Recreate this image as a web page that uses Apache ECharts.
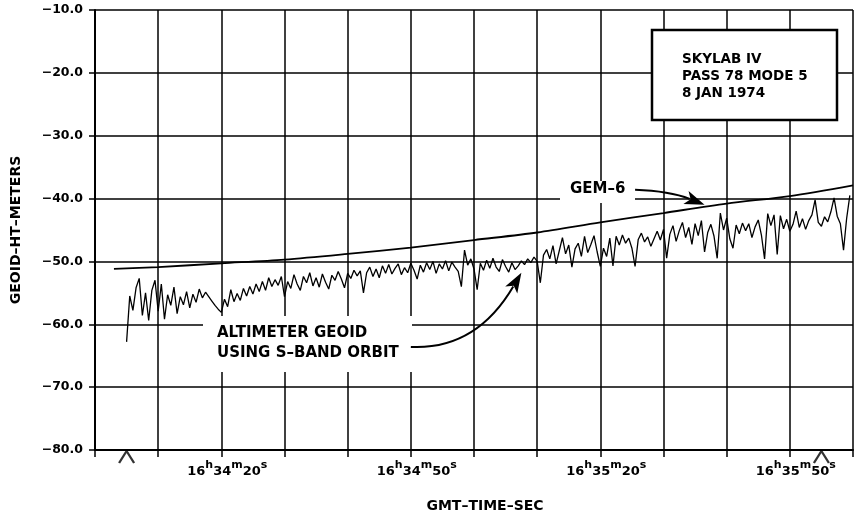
<!DOCTYPE html>
<html>
<head>
<meta charset="utf-8">
<script src="https://cdn.jsdelivr.net/npm/echarts@6/dist/echarts.min.js"></script>
<style>
  html, body { margin: 0; padding: 0; background: #fff; }
  #chart { width: 856px; height: 520px; }
</style>
</head>
<body>
<div id="chart"></div>
<script>
// seconds after 16h34m00s
var tickSecs = [20, 50, 80, 110];
var tickTimes = [['16', '34', '20'], ['16', '34', '50'], ['16', '35', '20'], ['16', '35', '50']];

// GEM-6 reference geoid
var gemTime = [3, 10, 20, 30, 40, 50, 60, 70, 80, 90, 100, 110, 120];
var gemValue = [-51.2, -50.9, -50.3, -49.7, -48.8, -47.8, -46.6, -45.4, -43.8, -42.3, -40.8, -39.6, -37.9];

// altimeter geoid, one reading every 0.5 s from 5 s
var altStart = 5, altStep = 0.5;
var altValues = [
  -62.8, -55.5, -57.8, -54.2, -52.7, -58.6, -55.0, -59.4, -54.6, -53.0,
  -57.9, -53.6, -59.2, -55.3, -57.0, -54.1, -58.3, -55.6, -56.9, -54.8,
  -57.4, -55.2, -56.5, -54.4, -55.8, -54.9, -55.6, -56.3, -57.0, -57.6,
  -58.1,
  -56.0, -57.2, -54.5, -56.4, -55.1, -56.2, -54.3, -55.5, -54.0, -55.2,
  -53.6, -54.8, -53.2, -54.6, -52.6, -54.0, -52.9, -53.8, -52.4, -55.6,
  -53.2, -54.3, -52.1, -53.6, -54.6, -52.4, -53.4, -51.8, -53.9, -52.6,
  -54.1, -52.0, -53.3, -54.4, -52.2, -53.0, -51.6, -52.8, -54.2, -51.9,
  -52.7, -51.4,
  -52.3, -51.5, -55.0, -51.8, -50.9, -52.4, -51.2, -52.6, -50.7, -51.9,
  -50.5, -52.0, -51.1, -50.4, -52.1, -51.0, -51.8, -50.3, -51.4, -52.8,
  -50.6, -51.7, -50.2, -51.3, -50.0, -51.9, -50.4, -51.2, -49.9, -51.5,
  -50.1, -50.9, -51.6, -54.0, -48.2,
  -50.6, -49.6, -51.2, -54.5, -50.3, -51.4, -49.8, -51.1, -49.5, -50.9,
  -51.6, -49.7, -50.8, -51.7, -50.2, -51.3, -50.7, -49.9, -50.5, -49.6,
  -50.2, -49.3, -50.0, -53.4, -49.0,
  -48.1, -49.6, -47.5, -50.4, -48.3, -46.2, -48.8, -47.4, -50.9, -48.0,
  -47.1, -49.2, -46.0, -48.6, -47.3, -45.9, -48.5, -50.8, -47.9, -49.2,
  -46.3, -50.7, -46.0, -47.4, -45.8, -47.1, -46.3, -47.9, -50.8, -46.5,
  -45.5, -46.9, -46.1, -47.6, -46.4,
  -45.2, -46.6, -44.9, -49.5, -45.7, -44.3, -46.8, -45.1, -43.8, -46.2,
  -44.6, -47.3, -44.0, -45.9, -43.5, -48.5, -45.4, -44.1, -46.0, -49.5,
  -42.3, -45.0, -43.1, -46.4,
  -47.9, -44.2, -45.6, -43.9, -45.1, -44.0, -46.2, -44.5, -43.4, -45.8,
  -49.6, -42.4, -44.3, -42.6, -48.9, -42.7, -44.8, -43.3, -45.2, -44.1,
  -42.0, -44.6, -43.2, -44.9, -43.5, -42.6, -40.2, -43.8, -44.4, -42.9,
  -43.7, -42.1, -39.9, -42.8, -44.0, -48.2, -43.1, -39.5
];

// start / end marks under the time axis
var caretSecs = [5, 115];

var FONT = 'DejaVu Sans';

var altData = altValues.map(function (v, i) { return [altStart + i * altStep, v]; });
var gemData = gemTime.map(function (t, i) { return [t, gemValue[i]]; });
var caretData = caretSecs.map(function (t) { return [t, -80]; });

var myChart = echarts.init(document.getElementById('chart'));

option = {
  animation: false,
  backgroundColor: '#fff',
  grid: { left: 95, right: 0, top: 10, bottom: 70 },
  xAxis: {
    type: 'value',
    min: 0,
    max: 120,
    interval: 10,
    name: 'GMT–TIME–SEC',
    nameLocation: 'middle',
    nameGap: 49,
    nameTextStyle: { fontFamily: FONT, fontWeight: 'bold', fontSize: 14, color: '#000', padding: [0, 0, 0, 22] },
    axisLine: { lineStyle: { color: '#000', width: 2 } },
    axisTick: { length: 7, lineStyle: { color: '#000', width: 1.5 } },
    splitLine: { show: true, lineStyle: { color: '#000', width: 1.5 } },
    axisLabel: {
      margin: 10,
      padding: [0, 0, 0, 12],
      formatter: function (v) {
        var k = tickSecs.indexOf(v);
        if (k < 0) return '';
        var t = tickTimes[k];
        return '{n|' + t[0] + '}{u|h}{n|' + t[1] + '}{u|m}{n|' + t[2] + '}{u|s}';
      },
      rich: {
        n: { fontFamily: FONT, fontWeight: 'bold', fontSize: 13, color: '#000', lineHeight: 18, verticalAlign: 'bottom' },
        u: { fontFamily: FONT, fontWeight: 'bold', fontSize: 11, color: '#000', lineHeight: 11, verticalAlign: 'top' }
      }
    }
  },
  yAxis: {
    type: 'value',
    min: -80,
    max: -10,
    interval: 10,
    name: 'GEOID–HT–METERS',
    nameLocation: 'middle',
    nameGap: 72,
    nameTextStyle: { fontFamily: FONT, fontWeight: 'bold', fontSize: 14, color: '#000' },
    axisLine: { lineStyle: { color: '#000', width: 2 } },
    axisTick: { length: 6, lineStyle: { color: '#000', width: 1.5 } },
    splitLine: { show: true, lineStyle: { color: '#000', width: 1.5 } },
    axisLabel: {
      margin: 12,
      fontFamily: FONT,
      fontWeight: 'bold',
      fontSize: 12.5,
      color: '#000',
      formatter: function (v) { return '−' + Math.abs(v).toFixed(1); }
    }
  },
  series: [
    {
      name: 'ALTIMETER GEOID',
      type: 'line',
      data: altData,
      symbol: 'none',
      lineStyle: { color: '#000', width: 1.3 },
      z: 3
    },
    {
      name: 'GEM-6',
      type: 'line',
      data: gemData,
      symbol: 'none',
      smooth: 0.3,
      lineStyle: { color: '#000', width: 1.8 },
      z: 4
    },
    {
      type: 'scatter',
      data: caretData,
      clip: false,
      symbol: 'path://M0 14 L7 0 L14 14',
      symbolSize: [15, 12],
      symbolOffset: [0, 7],
      itemStyle: { color: 'none', borderColor: '#000', borderWidth: 2 },
      z: 5
    }
  ]
};

myChart.setOption(option);

// annotation arrows: tail, control point, tip in data coordinates
var arrows = [
  { tail: [85.5, -38.6], ctrl: [91, -38.8], tip: [96.5, -41.0] },
  { tail: [50, -63.6], ctrl: [60.3, -64.1], tip: [67.5, -51.8] }
];

function px(p) { return myChart.convertToPixel({ gridIndex: 0 }, p); }

var graphics = [
  // white boxes behind the labels
  { type: 'rect', z: 10, shape: { x: 203, y: 316, width: 209, height: 56 }, style: { fill: '#fff' } },
  { type: 'rect', z: 10, shape: { x: 560, y: 181, width: 75, height: 22 }, style: { fill: '#fff' } },
  {
    type: 'text', z: 11, left: 217, top: 323,
    style: { text: 'ALTIMETER GEOID\nUSING S–BAND ORBIT', fill: '#000', font: 'bold 15px "DejaVu Sans"', lineHeight: 20 }
  },
  {
    type: 'text', z: 11, left: 570, top: 182,
    style: { text: 'GEM–6', fill: '#000', font: 'bold 15px "DejaVu Sans"' }
  },
  { type: 'rect', z: 10, shape: { x: 652, y: 30, width: 185, height: 90 }, style: { fill: '#fff', stroke: '#000', lineWidth: 2.5 } },
  {
    type: 'text', z: 11, left: 682, top: 51,
    style: { text: 'SKYLAB IV\nPASS 78 MODE 5\n8 JAN 1974', fill: '#000', font: 'bold 13.5px "DejaVu Sans"', lineHeight: 17 }
  }
];

arrows.forEach(function (a) {
  var t = px(a.tail), c = px(a.ctrl), h = px(a.tip);
  var dx = h[0] - c[0], dy = h[1] - c[1];
  var len = Math.sqrt(dx * dx + dy * dy);
  dx /= len; dy /= len;
  var L = 20, W = 7;
  var bx = h[0] - dx * L, by = h[1] - dy * L;
  graphics.push({
    type: 'bezierCurve', z: 12,
    shape: { x1: t[0], y1: t[1], cpx1: c[0], cpy1: c[1], x2: bx + dx * 4, y2: by + dy * 4 },
    style: { stroke: '#000', lineWidth: 2, fill: 'none' }
  });
  graphics.push({
    type: 'polygon', z: 12,
    shape: { points: [h, [bx - dy * W, by + dx * W], [bx + dx * 5, by + dy * 5], [bx + dy * W, by - dx * W]] },
    style: { fill: '#000' }
  });
});

myChart.setOption({ graphic: graphics });
window.onresize = () => this.myChart.resize();
</script>
</body>
</html>
